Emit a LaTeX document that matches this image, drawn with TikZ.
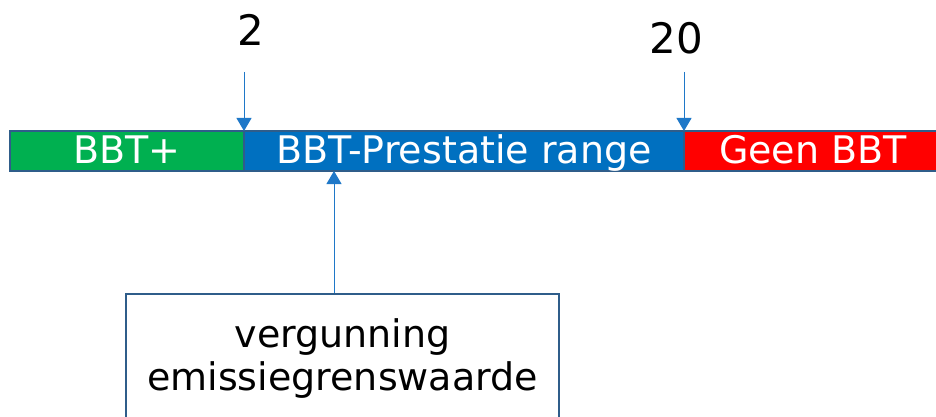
\documentclass[tikz,border=0pt]{standalone}
\usepackage{fontspec}
\setmainfont{DejaVu Sans}
\usetikzlibrary{arrows.meta}
\definecolor{bbtgreen}{HTML}{00B050}
\definecolor{bbtblue}{HTML}{0070C0}
\definecolor{bbtred}{HTML}{FF0000}
\definecolor{barline}{HTML}{2F5D8A}
\definecolor{tickblue}{HTML}{1F78C8}
\tikzset{
	seg/.style={draw=barline, line width=2pt, minimum height=40pt, inner sep=0pt, outer sep=0pt, anchor=north west, text=white, text height=25pt, text depth=0pt, font=\fontsize{38}{40}\selectfont},
	tick/.style={draw=tickblue, line width=1pt, -{Triangle[width=15pt,length=13pt]}},
	num/.style={font=\fontsize{42}{46}\selectfont},
}
\begin{document}
\begin{tikzpicture}[x=1pt, y=-1pt]
		%%%%% START %%%%%
		\useasboundingbox (0, 0) rectangle (936, 417);
		
		% the bar
		\node[seg, fill=bbtgreen, minimum width=234pt] (bbtplus) at (10, 131) {BBT+};
		\node[seg, fill=bbtblue, minimum width=440pt] (range) at (244, 131) {BBT-Prestatie range};
		\node[seg, fill=bbtred, minimum width=258pt] (geen) at (684, 131) {Geen BBT};
		
		% limits
		\node[num] (two) at (251, 30) {2};
		\node[num] (twenty) at (676, 38) {20};
		\coordinate (twotick) at (244, 72);
		\coordinate (twentytick) at (684, 72);
		\draw[tick] (twotick) -- (range.north west);
		\draw[tick] (twentytick) -- (geen.north west);
		
		% permit value
		\node[draw=barline, line width=2pt, minimum width=433pt, minimum height=130pt, align=center, font=\fontsize{38}{43}\selectfont] (vgw) at (342.5, 359) {vergunning\\emissiegrenswaarde};
		\coordinate (vgwtop) at (334, 293);
		\draw[tick] (vgwtop) -- (vgwtop |- range.south);
		%%%%% END %%%%%
	\end{tikzpicture}
\end{document}
